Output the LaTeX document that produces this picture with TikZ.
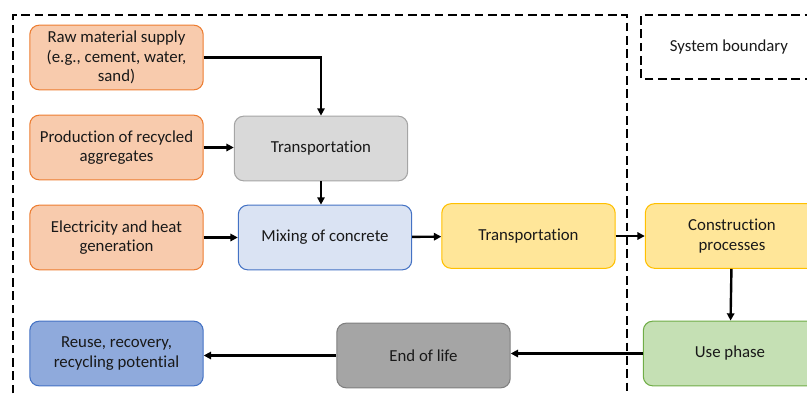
\documentclass[tikz,border=0pt]{standalone}
\usepackage{fontspec}
\setmainfont[Ligatures=NoCommon]{Carlito}
\usepackage{tikz}
\usetikzlibrary{arrows.meta}

\definecolor{orangefill}{HTML}{F8CBAD}
\definecolor{orangeline}{HTML}{ED7D31}
\definecolor{greyfill}{HTML}{D9D9D9}
\definecolor{greyline}{HTML}{A5A5A5}
\definecolor{darkfill}{HTML}{A5A5A5}
\definecolor{darkline}{HTML}{7F7F7F}
\definecolor{bluefill}{HTML}{DAE3F3}
\definecolor{blueline}{HTML}{4472C4}
\definecolor{reusefill}{HTML}{8FAADC}
\definecolor{yellowfill}{HTML}{FFE699}
\definecolor{yellowline}{HTML}{FFC000}
\definecolor{greenfill}{HTML}{C5E0B4}
\definecolor{greenline}{HTML}{70AD47}

\tikzset{
    stage/.style={rounded corners=7pt,draw,line width=0.8pt,minimum width=130pt,minimum height=48.5pt,align=center,font=\fontsize{12.6}{14.6}\selectfont,text=black!90},
    flow/.style={-{Triangle[length=5.5pt,width=5.5pt]},line width=1.8pt},
    boundary/.style={line width=1.6pt,dash pattern=on 6.5pt off 3.5pt}
}

\begin{document}
\begin{tikzpicture}[x=0.75pt,y=-0.75pt]
        \useasboundingbox (0,0) rectangle (807,396);
        \clip (0,0) rectangle (807,396);

        % boundaries
        \draw[boundary] (13,420) -- (13,15) -- (627,15) -- (627,420);
        \draw[boundary] (840,79) -- (641,79) -- (641,15) -- (840,15);
        \node[font=\fontsize{12.6}{14.6}\selectfont,text=black!90] (SB) at (729,47){System boundary};

        \node[stage,fill=orangefill,draw=orangeline] (RAW) at (116.5,57.5){Raw material supply\\(e.g., cement, water,\\sand)};
        \node[stage,fill=orangefill,draw=orangeline] (REC) at (116.5,147.5){Production of recycled\\aggregates};
        \node[stage,fill=orangefill,draw=orangeline] (ELE) at (116.5,237.5){Electricity and heat\\generation};
        \node[stage,fill=greyfill,draw=greyline] (TR1) at (321,148.5){Transportation};
        \node[stage,fill=bluefill,draw=blueline] (MIX) at (325,237.5){Mixing of concrete};
        \node[stage,fill=yellowfill,draw=yellowline] (TR2) at (528.5,236){Transportation};
        \node[stage,fill=yellowfill,draw=yellowline] (CON) at (732,236){Construction\\processes};
        \node[stage,fill=greenfill,draw=greenline] (USE) at (730,353.5){Use phase};
        \node[stage,fill=darkfill,draw=darkline] (EOL) at (423.5,355.5){End of life};
        \node[stage,fill=reusefill,draw=blueline] (REU) at (116.5,353.5){Reuse, recovery,\\recycling potential};

        \draw[flow] (RAW) -| (TR1);
        \draw[flow] (REC) -- (REC -| TR1.west);
        \draw[flow] (TR1) -- (TR1 |- MIX.north);
        \draw[flow] (ELE) -- (MIX);
        \draw[flow] (MIX) -- (TR2);
        \draw[flow] (TR2) -- (TR2 -| CON.west);
        \draw[flow] (CON) -- (USE);
        \draw[flow] (USE) -- (USE -| EOL.east);
        \draw[flow] (EOL) -- (EOL -| REU.east);
\end{tikzpicture}
\end{document}
